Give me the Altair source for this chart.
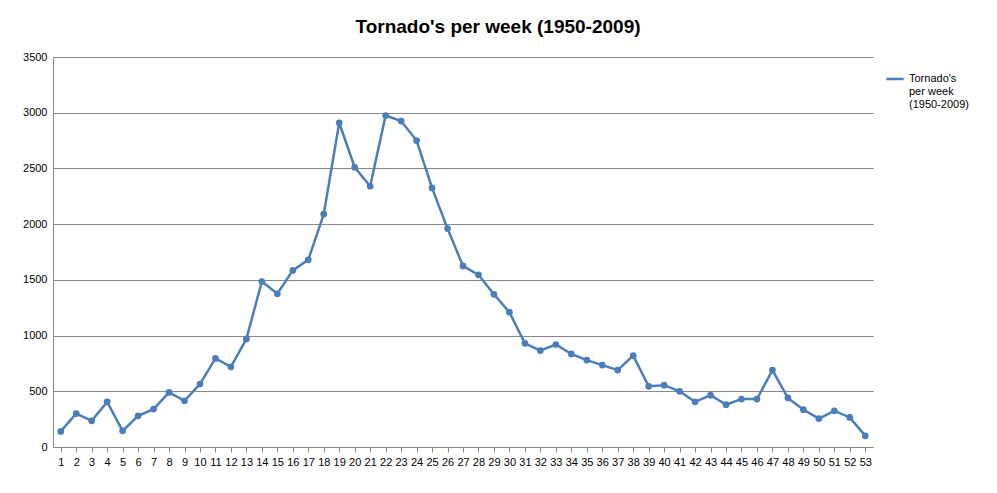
import altair as alt
import pandas as pd

weeks = list(range(1, 54))
tornadoes = [140, 300, 235, 405, 145, 280, 340, 490, 415, 565,
             795, 720, 970, 1485, 1375, 1585, 1680, 2090, 2910, 2510,
             2340, 2975, 2925, 2750, 2325, 1960, 1625, 1545, 1370, 1210,
             930, 865, 920, 835, 780, 735, 690, 820, 545, 555,
             500, 405, 465, 380, 430, 430, 690, 440, 335, 255,
             325, 265, 100]
series_name = "Tornado's per week (1950-2009)"

df = pd.DataFrame({"week": weeks, "count": tornadoes, "series": series_name})

blue = "#4a7ebb"

chart = (
    alt.Chart(df)
    .mark_line(point=alt.OverlayMarkDef(size=45, filled=True, color=blue), strokeWidth=2.5)
    .encode(
        x=alt.X("week:O", title=None, sort=weeks,
                scale=alt.Scale(paddingInner=0, paddingOuter=0.5),
                axis=alt.Axis(labelAngle=0, labelFontSize=11, labelColor="#000",
                              domainColor="#888", tickColor="#888", labelPadding=4)),
        y=alt.Y("count:Q", title=None,
                scale=alt.Scale(domain=[0, 3500]),
                axis=alt.Axis(values=list(range(0, 3501, 500)), format="d", labelFontSize=11,
                              labelColor="#000", domainColor="#888", ticks=False,
                              gridColor="#888", labelPadding=6)),
        color=alt.Color("series:N", scale=alt.Scale(range=[blue]),
                        legend=alt.Legend(title=None, orient="none", legendX=832, legendY=12,
                                          symbolType="stroke", symbolStrokeWidth=2.5,
                                          symbolSize=300, labelFontSize=11,
                                          labelExpr="['Tornado\\'s', 'per week', '(1950-2009)']")),
    )
    .properties(
        width=820, height=390,
        title=alt.TitleParams("Tornado's per week (1950-2009)", fontSize=19,
                              fontWeight="bold", dx=35, offset=14),
        autosize=alt.AutoSizeParams(type="none"),
        padding={"left": 45, "top": 49, "right": 116, "bottom": 38},
    )
    .configure(font="Liberation Sans")
    .configure_view(stroke=None)
)

chart.save("out.html", embed_options={"renderer": "svg", "actions": False})
